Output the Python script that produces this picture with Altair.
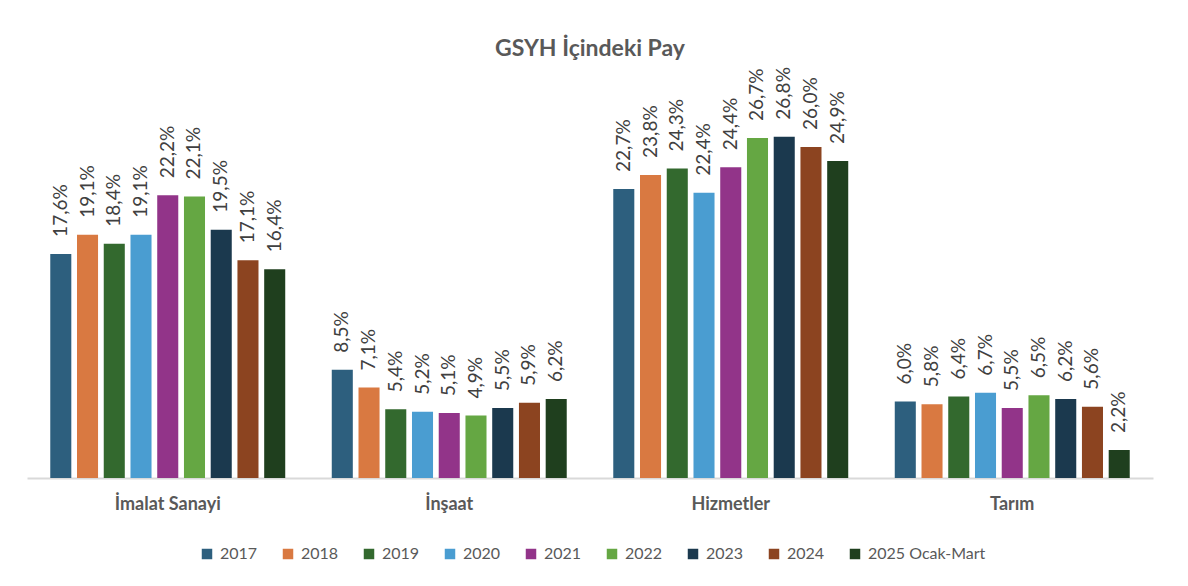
import altair as alt
import pandas as pd

categories = ["İmalat Sanayi", "İnşaat", "Hizmetler", "Tarım"]
years = ["2017", "2018", "2019", "2020", "2021", "2022", "2023", "2024", "2025 Ocak-Mart"]
colors = ["#2d5f7e", "#d97941", "#33692e", "#4a9dd1", "#923489",
          "#65a743", "#1b394e", "#8c4420", "#1f3f1e"]

# share of GDP (%) per sector, one list per sector in year order
imalat = [17.6, 19.1, 18.4, 19.1, 22.2, 22.1, 19.5, 17.1, 16.4]
insaat = [8.5, 7.1, 5.4, 5.2, 5.1, 4.9, 5.5, 5.9, 6.2]
hizmetler = [22.7, 23.8, 24.3, 22.4, 24.4, 26.7, 26.8, 26.0, 24.9]
tarim = [6.0, 5.8, 6.4, 6.7, 5.5, 6.5, 6.2, 5.6, 2.2]

rows = []
for cat, vals in zip(categories, [imalat, insaat, hizmetler, tarim]):
    for yr, v in zip(years, vals):
        rows.append({"kategori": cat, "yil": yr, "pay": v,
                     "etiket": f"{v:.1f}".replace(".", ",") + "%"})
df = pd.DataFrame(rows)

FONT = "Lato"
GRAY = "#595959"

x_enc = alt.X("kategori:N", sort=categories, title=None,
              scale=alt.Scale(paddingInner=0, paddingOuter=0),
              axis=alt.Axis(labelAngle=0, labelFontWeight="bold", labelFontSize=18,
                            labelColor=GRAY, labelFont=FONT, labelPadding=17,
                            ticks=False, domainColor="#d9d9d9", domainWidth=2))
xoff_enc = alt.XOffset("yil:N", sort=years,
                       scale=alt.Scale(paddingInner=0.213, paddingOuter=0.87))
y_enc = alt.Y("pay:Q", scale=alt.Scale(domain=[0, 30], nice=False), axis=None)

bars = alt.Chart(df).mark_bar().encode(
    x=x_enc,
    xOffset=xoff_enc,
    y=y_enc,
    color=alt.Color("yil:N", sort=years,
                    scale=alt.Scale(domain=years, range=colors),
                    legend=alt.Legend(title=None, orient="none", direction="horizontal",
                                      legendX=172, legendY=450,
                                      symbolType="square", symbolSize=110,
                                      symbolStrokeWidth=0,
                                      labelFontSize=16, labelColor=GRAY, labelFont=FONT,
                                      columnPadding=22, labelOffset=5)),
)

labels = alt.Chart(df).mark_text(
    angle=270, align="left", baseline="middle", dx=17,
    fontSize=19, font=FONT, color="#404040",
).encode(
    x=x_enc,
    xOffset=xoff_enc,
    y=y_enc,
    text="etiket:N",
)

chart = (bars + labels).properties(
    width=1126, height=382,
    title=alt.TitleParams("GSYH İçindeki Pay", fontSize=23, font=FONT,
                          fontWeight="bold", color=GRAY, anchor="middle", offset=6),
    autosize=alt.AutoSizeParams(type="none"),
    padding={"left": 27, "top": 96, "right": 35, "bottom": 108},
).configure_view(stroke=None)

chart.save("out.html", embed_options={"renderer": "svg", "actions": False})
